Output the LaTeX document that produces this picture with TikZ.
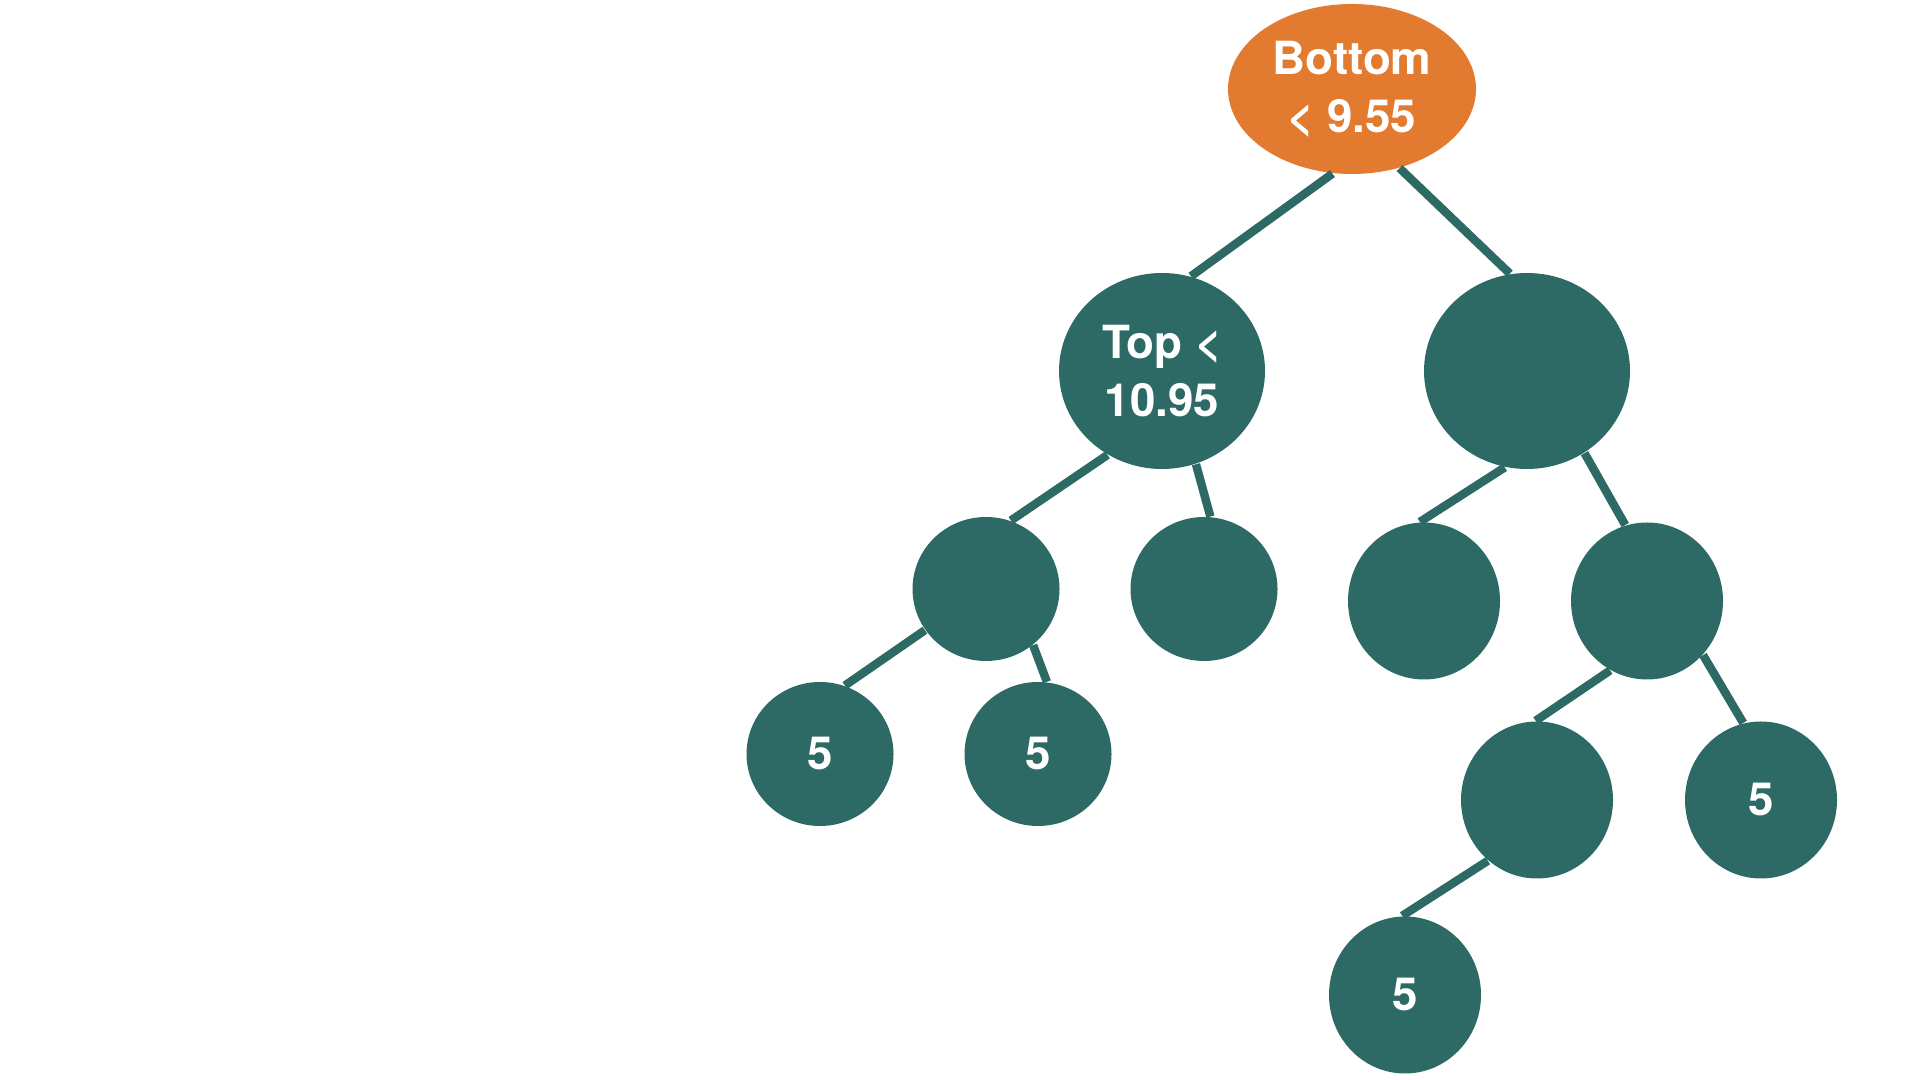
\documentclass[tikz,border=0pt]{standalone}
\usepackage{fontspec}
\setmainfont{TeX Gyre Heros}
\usepackage{xcolor}
\usetikzlibrary{shapes.geometric,positioning}
\definecolor{rootorange}{HTML}{E27A30}
\definecolor{treeteal}{HTML}{2D6A65}

\begin{document}
\begin{tikzpicture}[
    x=1cm, y=1cm,
    base/.style={ellipse, fill=treeteal, inner sep=0pt, text=white, align=center, font=\fontsize{13}{16.6}\selectfont\bfseries},
    rootnode/.style={base, fill=rootorange, minimum width=2.48cm, minimum height=1.70cm},
    bignode/.style={base, minimum width=2.06cm, minimum height=1.96cm},
    smallnode/.style={base, minimum width=1.47cm, minimum height=1.44cm},
    tallnode/.style={base, minimum width=1.52cm, minimum height=1.57cm},
    edge/.style={draw=treeteal, line width=2.4pt},
]
\useasboundingbox (0,0) rectangle (19.2,10.8);

% --- Root ---
\node[rootnode] (root) at (13.52,9.91) {Bottom\\< 9.55};

% --- Level 1 ---
\node[bignode] (top)   at (11.62,7.09) {Top <\\10.95};
\node[bignode] (right) at (15.27,7.09) {};

% --- Level 2 ---
\node[smallnode] (ll) at (9.86,4.91) {};
\node[smallnode] (lr) at (12.04,4.91) {};
\node[tallnode]  (rl) at (14.24,4.79) {};
\node[tallnode]  (rr) at (16.47,4.79) {};

% --- Level 3 ---
\node[smallnode] (lll) at (8.20,3.26) {5};
\node[smallnode] (llr) at (10.38,3.26) {5};
\node[tallnode]  (rrl) at (15.37,2.80) {};
\node[tallnode]  (rrr) at (17.61,2.80) {5};

% --- Level 4 ---
\node[tallnode] (rrll) at (14.05,0.85) {5};

% --- Edges ---
\draw[edge] (root.257) -- (top.73);
\draw[edge] (root.301) -- (right.100);
\draw[edge] (top.237) -- (ll.70);
\draw[edge] (top.290) -- (lr.85);
\draw[edge] (right.257) -- (rl.93);
\draw[edge] (right.305) -- (rr.106);
\draw[edge] (ll.214) -- (lll.70);
\draw[edge] (ll.310) -- (llr.83);
\draw[edge] (rr.242) -- (rrl.91);
\draw[edge] (rr.316) -- (rrr.103);
\draw[edge] (rrl.231) -- (rrll.92);

\end{tikzpicture}
\end{document}
